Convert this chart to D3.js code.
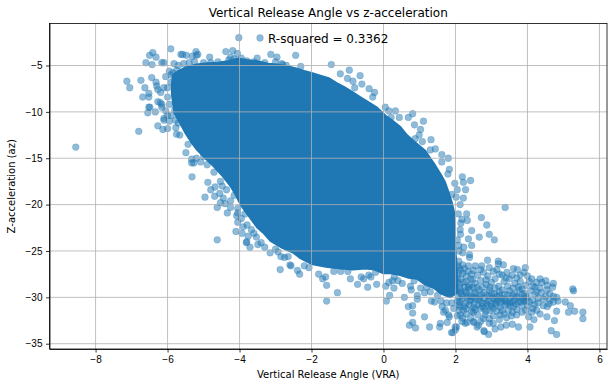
<!DOCTYPE html>
<html>
<head>
  <title>Vertical Release Angle vs z-acceleration</title>
  <meta charset="utf-8">
  <script src="https://d3js.org/d3.v7.min.js"></script>
  <style type="text/css">
    html, body { margin: 0; padding: 0; background: #fff; }
    svg { display: block; font-family: "DejaVu Sans", sans-serif; }
    .grid line { stroke: #b0b0b0; stroke-width: 0.8; }
    .axis text { font-size: 10px; fill: #000; }
    .axis line, .axis path { stroke: #000; stroke-width: 0.8; }
  </style>
</head>
<body>
  <svg id="chart" width="614" height="387"></svg>

  <script type="text/javascript">
  var xTicks = [-8, -6, -4, -2, 0, 2, 4, 6];
  var yTicks = [-35, -30, -25, -20, -15, -10, -5];
  var rSquared = "0.3362";

  // the middle of the cloud is so overplotted it reads as solid colour,
  // single points can't be read there so it is kept as an outline [vra, az]
  var solidOutline = [
    [-5.88,-7],[-5.85,-6],[-5.7,-5.6],[-5.5,-5.2],[-5.2,-4.9],[-4.9,-4.75],[-4.6,-4.7],[-4.3,-4.5],[-4.05,-4.25],[-3.8,-4.4],
    [-3.5,-4.55],[-3.2,-4.8],[-2.96,-4.9],[-2.7,-5.05],[-2.45,-5.3],[-2.2,-5.6],[-2,-5.8],[-1.75,-6.1],[-1.5,-6.4],[-1.3,-6.9],
    [-1.1,-7.3],[-0.85,-7.9],[-0.65,-8.4],[-0.4,-9],[-0.19,-9.5],[0.05,-10.4],[0.2,-10.8],[0.46,-11.6],[0.65,-12.5],[0.85,-13.2],
    [1.16,-14.2],[1.3,-15],[1.44,-15.8],[1.6,-16.8],[1.7,-17.5],[1.81,-18.7],[1.9,-19.8],[1.96,-20.8],[1.98,-22.5],[1.98,-24.2],
    [2.02,-26],[2.05,-28],[2.05,-29.5],[1.85,-30],[1.6,-29.6],[1.4,-29],[1.15,-28.6],[0.93,-28],[0.7,-27.9],[0.46,-27.6],[0.2,-27.4],
    [0,-27.4],[-0.25,-27],[-0.5,-26.9],[-0.85,-27],[-1.2,-26.9],[-1.6,-26.7],[-2,-26.4],[-2.3,-25.8],[-2.5,-25.2],[-2.8,-24.7],
    [-3.14,-23.9],[-3.35,-23],[-3.5,-22.5],[-3.75,-21.2],[-3.97,-20],[-4.1,-19],[-4.25,-18],[-4.45,-17],[-4.71,-15.9],[-4.95,-15],
    [-5.18,-14.1],[-5.35,-13.2],[-5.5,-12.3],[-5.65,-11.2],[-5.8,-10.2],[-5.85,-9],[-5.88,-8]
  ];

  var upperLeftPoints = [
    [-8.55,-13.8],[-4.02,-2],[-5.91,-3.2],[-6.41,-3.6],[-6.5,-3.9],[-6.32,-4.1],[-6.6,-4.7],[-6.43,-4.9],[-6.16,-4.7],
    [-6.1,-4.7],[-5.82,-4.8],[-5.63,-3.8],[-5.58,-3.8],[-5.48,-3.9],[-5.21,-3.5],[-5.16,-3.8],[-5.31,-4],[-5.2,-3.9],
    [-4.83,-4.1],[-4.38,-3.5],[-4.19,-3.4],[-4.25,-4.1],[-4.06,-3.7],[-3.51,-4.2],[-3.13,-3.8],[-2.96,-4.1],[-3,-4.6],
    [-2.83,-4.8],[-2.8,-4.9],[-2.44,-3.9],[-7.13,-6.7],[-7.05,-7.4],[-6.74,-6.6],[-6.63,-7.4],[-6.69,-8.4],[-6.52,-8],
    [-6.52,-8.4],[-6.44,-6.3],[-6.32,-6.8],[-6.3,-7.2],[-6.19,-7.9],[-6.27,-7.6],[-6.52,-9.5],[-6.49,-9.5],[-6.55,-10.1],
    [-6.34,-10],[-6.27,-8.9],[-6.16,-9.2],[-6.16,-9.5],[-6.2,-9],[-6.1,-10.7],[-6.1,-10.9],[-6.27,-11.5],[-6.8,-12.1],
    [-6.13,-11.9],[-6,-11.8],[-5.77,-11.7],[-5.75,-12.4],[-5.66,-12.5],[-6.05,-6.2],[-6,-7.4],[-6.1,-7.4],[-6,-8.4],
    [-5.92,-6],[-5.85,-5.8],[-5.8,-9.8],[-5.78,-10.9],[-5.6,-10.7],[-5.95,-9.2],[-5.9,-10.4],[-5.7,-11.2],[-5.9,-6.8],
    [-5.7,-5],[-5.55,-4.8],[-5.4,-4.7],[-5.25,-4.6],[-5,-4.7],[-4.8,-4.7],[-4.6,-4.6],[-4.3,-4.4],[-3.8,-4.5],[-3.6,-4.6],
    [-3.3,-4.7],[-2.7,-5],[-2.3,-5.1],[-5.95,-5.6],[-6.05,-9.9],[-6,-10.4],[-5.95,-11],[-5.75,-5.5],[-4.15,-4.3],[-3.95,-4.2]
  ];

  var lowerLeftPoints = [
    [-5.49,-14.4],[-5.43,-13.5],[-5.33,-15.1],[-5.33,-15.5],[-5.27,-15.5],[-5.08,-15.4],[-5.32,-17],[-4.88,-17.6],
    [-4.9,-15.7],[-4.71,-16.5],[-4.53,-17.5],[-4.48,-18],[-4.36,-18.4],[-4.8,-18.4],[-4.68,-18.1],[-5.2,-15],[-5,-14.8],
    [-4.96,-19.2],[-4.69,-19.1],[-4.62,-20.3],[-4.53,-19.8],[-4.34,-20.9],[-4.25,-20.3],[-4.08,-21.2],[-4.05,-20.4],
    [-4.05,-21.9],[-4.1,-22.9],[-3.93,-23.1],[-4.62,-23.8],[-3.81,-24.1],[-3.71,-24.6],[-3.79,-22.2],[-3.67,-22.7],
    [-3.76,-23.4],[-3.53,-23.5],[-3.49,-24.3],[-3.15,-25.2],[-2.87,-27],[-2.75,-25.7],[-2.57,-26.6],[-2.39,-27.1],
    [-2.33,-27.5],[-2.93,-25.1],[-3.4,-24.1],[-2.6,-26.5],[-3.8,-24],[-2.65,-25.6],[-2.2,-26.6],[-2.07,-26.8],
    [-4.55,-18.8],[-4.45,-19.3],[-4.4,-19.9],[-4.25,-19.6],[-4.15,-19],[-4.05,-20.9],[-3.95,-21.5],[-3.85,-21],[-3.9,-22.4],
    [-3.6,-23.1],[-3.3,-24.6],[-3,-24.8],[-2.85,-25.6]
  ];

  var bottomPoints = [
    [-1.8,-27.5],[-1.69,-28],[-1.61,-27.8],[-1.58,-28.7],[-1.58,-30.4],[-1.28,-29.5],[-1.38,-27.2],[-1.19,-27.2],
    [-0.99,-27.2],[-0.92,-28],[-0.72,-28.6],[-0.62,-27.8],[-0.55,-28],[-0.44,-28.9],[-0.41,-27.6],[-0.19,-28.6],
    [-0.22,-27.3],[0.06,-28.8],[0.17,-29.8],[0.08,-30.4],[0.29,-29],[0.52,-28.5],[0.58,-30],[0.69,-31],[0.81,-30.9],
    [0.81,-31.7],[0.94,-29.8],[0.94,-30.2],[0.77,-29.2],[1.03,-29],[1.14,-29.5],[1.14,-32.1],[0.72,-33],[0.81,-32.7],
    [0.89,-33.3],[1.28,-33.2],[1.33,-30.4],[1.42,-30.5],[1.56,-33.2],[1.58,-32.8],[1.77,-32.7],[1.83,-32.1],[1.89,-33.8],
    [2,-33.5],[2.03,-33.2],[1.63,-31],[1.72,-31.4],[0.25,-28.2],[0.4,-28.2],[0.3,-27.8],[0.15,-28.4],[-0.35,-27.8],
    [0.75,-28.8],[0.85,-28.2],[1.2,-28.9],[1.3,-29.4],[1.5,-29.8],[1.6,-30.4],[1.75,-30.6],[1.9,-30.6],[1.95,-31.2],
    [1.81,-31.9],[1.67,-31.6],[1.99,-33.2],[1.93,-33.8],[2.05,-32]
  ];

  var rightEdgePoints = [
    [0.81,-10.2],[0.69,-10.6],[0.44,-10.6],[0.21,-10.6],[0.86,-11.4],[1.11,-11],[1.03,-11.9],[0.99,-12.5],[0.88,-12.9],
    [1.08,-13.2],[1.32,-13],[1.3,-14.1],[1.44,-14],[1.62,-14.6],[1.8,-15],[1.62,-15.4],[1.83,-16.2],[1.79,-16.7],[2.19,-17],
    [2.22,-17.6],[2.42,-17.4],[1.98,-17.7],[2.05,-18.4],[2.28,-18.4],[1.9,-18.9],[2.02,-19.2],[2.22,-19.3],[2.13,-20],
    [3.38,-20.3],[2.72,-21.4],[2.31,-21],[2.08,-21],[2.33,-21.7],[2.18,-21.6],[2.87,-22.2],[2.94,-23.2],[2.66,-23.5],
    [3.08,-23.8],[2.45,-22.8],[2.13,-22.7],[2.36,-23.7],[2.45,-24.4],[2.14,-23.2],[2.09,-24.4],[2.23,-24.6],[2.39,-25.4],
    [2.39,-25.7],[2.09,-26.1],[2.2,-25.2],[2.1,-25],[2.15,-22],[2.05,-23.8],[-1.45,-4.9],[-1.2,-5.9],[-1,-6.4],[-0.95,-5.5],
    [-0.85,-6.7],[-0.6,-7],[-0.4,-7.5],[-0.25,-7.9],[-0.3,-8.4],[0.05,-9.5],[0.33,-9.9],[-0.65,-6.1],[-0.8,-7.4],[0.15,-9.9]
  ];

  var lowerRightPoints = [
    [2.89,-26],[3.19,-26.1],[3.33,-26.5],[3.19,-26.4],[3.94,-26.8],[3.61,-26.9],[3.43,-27.3],[3.22,-27.5],[2.94,-26.8],
    [2.73,-26.6],[2.55,-26.6],[2.36,-26.6],[3.8,-27.6],[4.12,-28],[4.35,-28],[4.51,-28.2],[4.72,-28.5],[4.7,-28.9],
    [4.54,-29.2],[4.21,-28.9],[4.26,-29.4],[5.26,-29.1],[5.28,-29.3],[4.81,-30],[5.05,-30.5],[5.19,-30.9],[5.14,-31.6],
    [5.31,-31.5],[5.54,-31.6],[5.54,-32.3],[4.81,-31.5],[4.75,-32.5],[4.66,-33.6],[4.81,-34],[4.54,-32.1],[4.35,-31.8],
    [4.26,-31.4],[4.63,-30.3],[4.44,-30.9],[4,-30.9],[3.94,-30.3],[4.12,-31.6],[4.03,-32.1],[4.07,-33.2],[3.75,-33.2],
    [3.58,-32.9],[3.41,-33],[3.26,-33.2],[3.1,-33.4],[2.92,-34],[2.8,-33.7],[2.64,-33],[2.5,-32.6],[2.27,-32.8],[2.18,-32.6],
    [2.82,-31.9],[2.94,-32.3],[2.94,-32.8],[3.22,-32.4],[3.24,-31.9],[3.47,-31.4],[3.7,-31.9],[3.52,-30.9],[3.75,-30.5],
    [2.13,-31.9],[2.22,-31.4],[2.5,-31.6],[2.69,-31.2],[2.96,-31.4],[2.32,-32.7],[2.51,-32.7],[2.6,-33.2],[2.79,-33.6]
  ];

  // clumps inside the lower right arm, estimated from the zoomed picture
  var armPoints = [
    [2.1,-26.8],[2.2,-27.4],[2.35,-27.2],[2.5,-27.1],[2.62,-27.6],[2.78,-27.3],[2.9,-27.7],[3.05,-27.2],[3.1,-28],[2.15,-28],
    [2.3,-28.3],[2.42,-28],[2.55,-28.5],[2.7,-28.2],[2.85,-28.6],[3,-28.4],[3.2,-28.8],[3.35,-28.3],[3.5,-28],[3.65,-28.5],
    [3.8,-28.3],[3.95,-28.7],[4.05,-28.3],[2.12,-29],[2.27,-29.3],[2.4,-29.1],[2.52,-29.6],[2.66,-29.2],[2.8,-29.5],[2.94,-29.2],
    [3.08,-29.6],[3.22,-29.4],[3.36,-29.7],[3.5,-29.3],[3.64,-29.6],[3.78,-29.2],[3.92,-29.6],[4.08,-29.3],[4.2,-29.7],[4.38,-29.5],
    [4.5,-29.9],[2.08,-30],[2.2,-30.2],[2.32,-30],[2.44,-30.3],[2.56,-30.1],[2.68,-30.4],[2.8,-30.1],[2.92,-30.4],[3.04,-30.1],
    [3.16,-30.4],[3.28,-30.1],[3.4,-30.4],[3.52,-30.1],[3.64,-30.3],[3.76,-30],[3.88,-30.2],[4,-30],[4.14,-30.3],[4.3,-30.1],
    [4.45,-30.2],[4.6,-30.7],[2.1,-30.8],[2.25,-31],[2.38,-30.8],[2.5,-31.1],[2.62,-30.8],[2.75,-31],[2.88,-30.8],[3,-31],
    [3.12,-30.8],[3.25,-31.1],[3.38,-30.8],[3.62,-31],[3.85,-30.9],[4.2,-30.8],[2.3,-31.8],[2.42,-32.2],[2.62,-31.9],[2.78,-32.3],
    [3.05,-32],[3.15,-31.5],[3.35,-31.8],[3.55,-32],[3.85,-31.6],[4.18,-32.4],[2.05,-28.4],[2.08,-27.4],[3.3,-27.6],[3.58,-27.6],
    [3.72,-27],[4,-27.7],[4.25,-28.4],[2.1,-31.4],[2.05,-30.4],[2.15,-29.6],[2.6,-28.9],[2.95,-28.9],[3.45,-28.8],[3.75,-28.9],
    [2.25,-26.9],[2.45,-27.5],[2.7,-27],[2.85,-28.1],[3.15,-27],[3.4,-27.9],[3.7,-27.9],[3.9,-27.3],[4.15,-28.8],[4.35,-29],
    [4.55,-28.7],[4.4,-28.4],[4.62,-29.6],[4.72,-29.9],[4.85,-30.4],[4.3,-30.6],[4.15,-31.2],[3.95,-31.4],[3.7,-31.3],[3.42,-32.2],
    [3.05,-32.8],[2.7,-32.6],[2.45,-31.5],[2.2,-32.2],[2.85,-31.5],[3.3,-31.4],[3.58,-31.6],[4.55,-31],[4.72,-30.5]
  ];

  // darker band around az -30 where the arm is thickest
  var bandPoints = [
    [2.06,-29.3],[2.18,-29.8],[2.3,-29.5],[2.42,-29.9],[2.55,-29.5],[2.68,-29.9],[2.75,-30.6],[2.88,-29.8],[3,-29.6],[3.1,-30.2],
    [3.22,-29.8],[3.35,-30.2],[3.45,-29.7],[3.58,-30.5],[3.7,-29.9],[3.82,-30.5],[3.95,-29.9],[2.12,-30.5],[2.28,-30.6],[2.4,-30.4],
    [2.52,-30.7],[2.64,-30.2],[2.85,-30.6],[2.98,-30.7],[3.1,-30.6],[3.25,-30.6],[3.45,-30.7],[3.6,-29.8],[3.85,-29.7],[2.15,-29.4],
    [2.35,-29.8],[2.5,-30],[2.72,-29.7],[2.95,-29.9],[3.15,-29.9],[3.3,-30.4],[3.5,-30.5],[3.68,-30.7],[3.92,-30.4],[4.05,-30.5],
    [2.06,-27.9],[2.14,-27.1],[2.22,-28.4],[2.3,-27.7],[2.38,-28.7],[2.48,-28.1],[2.12,-28.6],[2.25,-28.9],[2.06,-26.6],[2.2,-26.5],
    [2.36,-28.9],[2.48,-28.9],[2.12,-31],[2.3,-31.2],[2.55,-31.3],[2.8,-31.2],[3.05,-31.2],[2.75,-28.9],[3.1,-29],[3.3,-29.2],
    [3.6,-29],[3.85,-29.1]
  ];

  var points = upperLeftPoints.concat(lowerLeftPoints, bottomPoints, rightEdgePoints, lowerRightPoints, armPoints, bandPoints);

  var svg = d3.select("#chart");
  var margin = {top: 23.5, right: 7, bottom: 38, left: 49.5},
      width = 614 - margin.left - margin.right,
      height = 387 - margin.top - margin.bottom;

  var x = d3.scaleLinear().domain([-9.28, 6.21]).range([0, width]);
  var y = d3.scaleLinear().domain([-35.57, -0.47]).range([height, 0]);

  var g = svg.append("g")
      .attr("transform", "translate(" + margin.left + "," + margin.top + ")");

  var outline = d3.line()
      .x(function(d) { return x(d[0]); })
      .y(function(d) { return y(d[1]); })
      .curve(d3.curveLinearClosed);

  g.append("path")
      .attr("d", outline(solidOutline))
      .attr("fill", "#1f77b4")
      .attr("stroke", "#1f77b4")
      .attr("stroke-width", 2)
      .attr("stroke-linejoin", "round");

  g.selectAll(".dot")
      .data(points)
      .join("circle")
      .attr("class", "dot")
      .attr("cx", function(d) { return x(d[0]); })
      .attr("cy", function(d) { return y(d[1]); })
      .attr("r", 3.4)
      .attr("fill", "#1f77b4")
      .attr("fill-opacity", 0.5)
      .attr("stroke", "#1f77b4")
      .attr("stroke-opacity", 0.5)
      .attr("stroke-width", 0.4);

  // grid sits above the points in the reference
  g.append("g").attr("class", "grid")
      .selectAll("line").data(xTicks).join("line")
      .attr("x1", x).attr("x2", x).attr("y1", 0).attr("y2", height);
  g.append("g").attr("class", "grid")
      .selectAll("line").data(yTicks).join("line")
      .attr("y1", y).attr("y2", y).attr("x1", 0).attr("x2", width);

  g.append("g").attr("class", "axis")
      .attr("transform", "translate(0," + height + ")")
      .call(d3.axisBottom(x).tickValues(xTicks).tickSize(3.5).tickPadding(3.5).tickSizeOuter(0));
  g.append("g").attr("class", "axis")
      .call(d3.axisLeft(y).tickValues(yTicks).tickSize(3.5).tickPadding(3.5).tickSizeOuter(0));

  g.append("rect")
      .attr("width", width).attr("height", height)
      .attr("fill", "none").attr("stroke", "#000").attr("stroke-width", 0.8);

  // legend, no frame
  g.append("circle")
      .attr("cx", 260 - margin.left).attr("cy", 38 - margin.top).attr("r", 3.4)
      .attr("fill", "#1f77b4").attr("fill-opacity", 0.5)
      .attr("stroke", "#1f77b4").attr("stroke-opacity", 0.5).attr("stroke-width", 0.4);
  g.append("text")
      .attr("x", 268 - margin.left).attr("y", 43 - margin.top)
      .attr("font-size", 12)
      .text("R-squared = " + rSquared);

  svg.append("text")
      .attr("x", margin.left + width / 2).attr("y", 17)
      .attr("text-anchor", "middle").attr("font-size", 12)
      .text("Vertical Release Angle vs z-acceleration");
  svg.append("text")
      .attr("x", margin.left + width / 2).attr("y", 378)
      .attr("text-anchor", "middle").attr("font-size", 10)
      .text("Vertical Release Angle (VRA)");
  svg.append("text")
      .attr("transform", "translate(15," + (margin.top + height / 2) + ") rotate(-90)")
      .attr("text-anchor", "middle").attr("font-size", 10)
      .text("Z-acceleration (az)");
  </script>
</body>
</html>
